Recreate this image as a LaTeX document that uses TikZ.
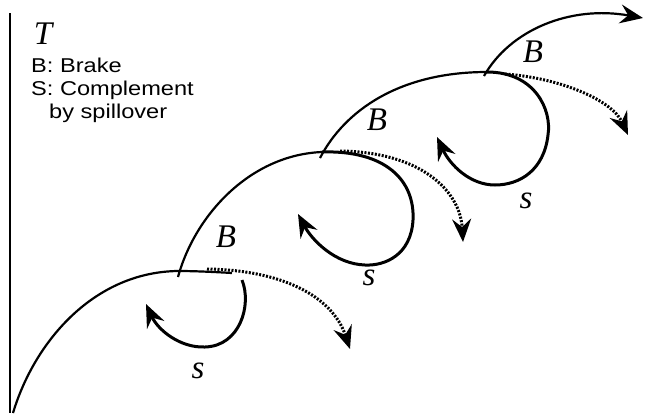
\documentclass[tikz,border=0pt]{standalone}
\usepackage{fontspec}
\setmainfont{Liberation Serif}
\newfontfamily\legendfont[FakeStretch=1.18]{Liberation Sans}
\usetikzlibrary{arrows.meta}
\begin{document}
\begin{tikzpicture}[x=1pt,y=-1pt,
  axisline/.style={line width=2.6pt},
  trunk/.style={line width=2.2pt},
  spill/.style={line width=3pt},
  dotpath/.style={line width=3pt, dash pattern=on 2pt off 1.5pt},
  tip/.style={-{Stealth[length=23pt,width=19pt,inset=8pt]}},
  lbl/.style={font=\fontsize{33}{33}\selectfont\itshape, anchor=base, inner sep=0pt},
  legend/.style={font=\legendfont\fontsize{20}{23}\selectfont, anchor=base west, inner sep=0pt}]
\useasboundingbox (0,0) rectangle (645,413);

% time axis
\coordinate (axtop) at (10,13);
\coordinate (axbot) at (10,413);
\draw[axisline] (axtop) -- (axbot);
\node[lbl] (T) at (43,44) {T};
\node[legend] (leg1) at (31,72) {B: Brake};
\node[legend] (leg2) at (31,95) {S: Complement};
\node[legend] (leg3) at (49,118) {by spillover};

% branching points
\coordinate (p0) at (13,413);
\coordinate (p1) at (178,271);
\coordinate (p2) at (322,152);
\coordinate (p3) at (487,72);

% stage 1
\coordinate (t1) at (232,273);
\draw[trunk] (p0) .. controls (35,340) and (95,272) .. (p1)
  .. controls (195,271) and (215,272) .. (t1);
\coordinate (l1a) at (242,280);
\coordinate (l1b) at (205,347);
\coordinate (l1e) at (146,304);
\draw[spill,tip] (l1a) .. controls (252,305) and (240,346) .. (l1b)
  .. controls (180,348) and (158,330) .. (l1e);
\coordinate (d1a) at (207,269);
\coordinate (d1e) at (350,349);
\draw[dotpath,tip] (d1a) .. controls (280,270) and (332,295) .. (d1e);
\coordinate (b1a) at (178,277);
\draw[trunk] (b1a) .. controls (195,215) and (250,155) .. (p2);

% stage 2
\coordinate (l2b) at (413,220);
\coordinate (l2c) at (365,265);
\coordinate (l2e) at (298,214);
\draw[spill,tip] (p2) .. controls (385,150) and (415,180) .. (l2b)
  .. controls (411,255) and (385,266) .. (l2c)
  .. controls (335,264) and (312,240) .. (l2e);
\coordinate (d2a) at (340,151);
\coordinate (d2e) at (463,242);
\draw[dotpath,tip] (d2a) .. controls (420,152) and (460,190) .. (d2e);
\coordinate (b2a) at (320,158);
\draw[trunk] (b2a) .. controls (345,110) and (400,72) .. (p3);

% stage 3
\coordinate (l3b) at (548,135);
\coordinate (l3c) at (495,185);
\coordinate (l3e) at (437,137);
\draw[spill,tip] (p3) .. controls (535,72) and (552,110) .. (l3b)
  .. controls (544,170) and (520,185) .. (l3c)
  .. controls (470,185) and (450,165) .. (l3e);
\coordinate (d3a) at (505,74);
\coordinate (d3e) at (628,135);
\draw[dotpath,tip] (d3a) .. controls (560,78) and (612,100) .. (d3e);
\coordinate (b3a) at (484,76);
\coordinate (b3e) at (643,18);
\draw[trunk,tip] (b3a) .. controls (510,30) and (570,5) .. (b3e);

% labels
\node[lbl] (B1) at (226,247) {B};
\node[lbl] (B2) at (377,130) {B};
\node[lbl] (B3) at (533,62) {B};
\node[lbl] (s1) at (198,378) {s};
\node[lbl] (s2) at (369,285) {s};
\node[lbl] (s3) at (526,208) {s};
\end{tikzpicture}
\end{document}
